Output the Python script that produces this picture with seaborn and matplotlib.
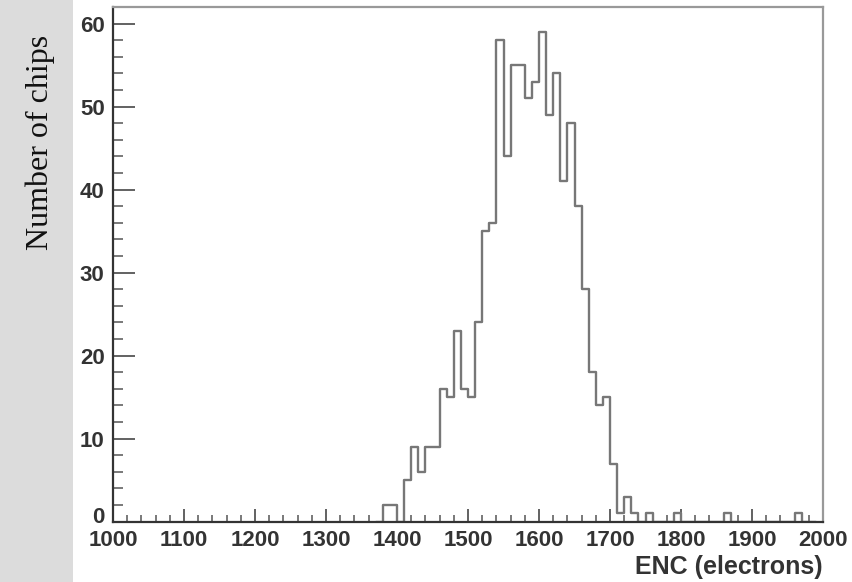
import numpy as np
import pandas as pd
import matplotlib
matplotlib.use('Agg')
import matplotlib.pyplot as plt
import matplotlib.transforms as mtransforms
from matplotlib.patches import Rectangle
from matplotlib.ticker import MultipleLocator
import seaborn as sns

# histogram contents, 10-electron bins starting at 1370
bin_start = 1370
bin_width = 10
counts = [0, 2, 2, 0, 5, 9, 6, 9, 9, 16, 15,
          23, 16, 15, 24, 35, 36, 58, 44, 55, 55,
          51, 53, 59, 49, 54, 41, 48, 38, 28, 18,
          14, 15, 7, 1, 3, 1, 0, 1, 0, 0,
          0, 1, 0, 0, 0, 0, 0, 0, 1, 0,
          0, 0, 0, 0, 0, 0, 0, 0, 1, 0, 0]
x_ticks = [1000, 1100, 1200, 1300, 1400, 1500, 1600, 1700, 1800, 1900, 2000]
y_ticks = [0, 10, 20, 30, 40, 50, 60]

edges = [bin_start + bin_width * i for i in range(len(counts) + 1)]
df = pd.DataFrame({'enc': [e + bin_width / 2 for e in edges[:-1]],
                   'n': counts})

sns.set_style('ticks')

fig = plt.figure(figsize=(8.52, 5.82), dpi=100)
fig.patches.append(Rectangle((0, 0), 73 / 852, 1, transform=fig.transFigure,
                             facecolor='#dcdcdc', edgecolor='none', zorder=0))
fig.text(40 / 852, 1 - 142 / 582, 'Number of chips', rotation=90,
         ha='center', va='center', fontsize=23, family='Liberation Serif',
         color='#111111')

ax = fig.add_axes([113 / 852, 60.3 / 582, 710 / 852, 514.7 / 582])
sns.histplot(data=df, x='enc', weights='n', bins=edges, element='step',
             fill=False, color='#777777', linewidth=1.7, ax=ax)

ax.set_xlim(1000, 2000)
ax.set_ylim(0, 62)
ax.set_xticks(x_ticks)
ax.set_yticks(y_ticks)
ax.xaxis.set_minor_locator(MultipleLocator(20))
ax.yaxis.set_minor_locator(MultipleLocator(2))
ax.tick_params(which='major', direction='in', pad=6,
               labelsize=16, labelcolor='#333333')
ax.tick_params(axis='y', which='major', length=15.6, width=1.3, color='#555555')
ax.tick_params(axis='x', which='major', length=9.4, width=1.3, color='#555555')
ax.tick_params(axis='y', which='minor', direction='in', length=7.2, width=1.1,
               color='#555555')
ax.tick_params(axis='x', which='minor', direction='in', length=5, width=1.1,
               color='#555555')
for lab in ax.get_xticklabels() + ax.get_yticklabels():
    lab.set_fontweight('bold')
    lab.set_family('Liberation Sans')

# the "0" sits a little above the axis, as in the original ROOT plot
zero_lab = ax.get_yticklabels()[0]
zero_lab.set_transform(zero_lab.get_transform() +
                       mtransforms.ScaledTranslation(0, 5 / 72, fig.dpi_scale_trans))

for side in ['left', 'bottom']:
    ax.spines[side].set_color('#333333')
    ax.spines[side].set_linewidth(1.6)
for side in ['top', 'right']:
    ax.spines[side].set_visible(True)
    ax.spines[side].set_color('#999999')
    ax.spines[side].set_linewidth(1.6)

ax.set_ylabel('')
ax.set_xlabel('ENC (electrons)', fontsize=18, fontweight='bold',
              family='Liberation Sans', color='#333333')
ax.xaxis.set_label_coords(1.0, -0.065)
ax.xaxis.label.set_horizontalalignment('right')
ax.xaxis.label.set_verticalalignment('top')

fig.savefig('out.png', dpi=100)
